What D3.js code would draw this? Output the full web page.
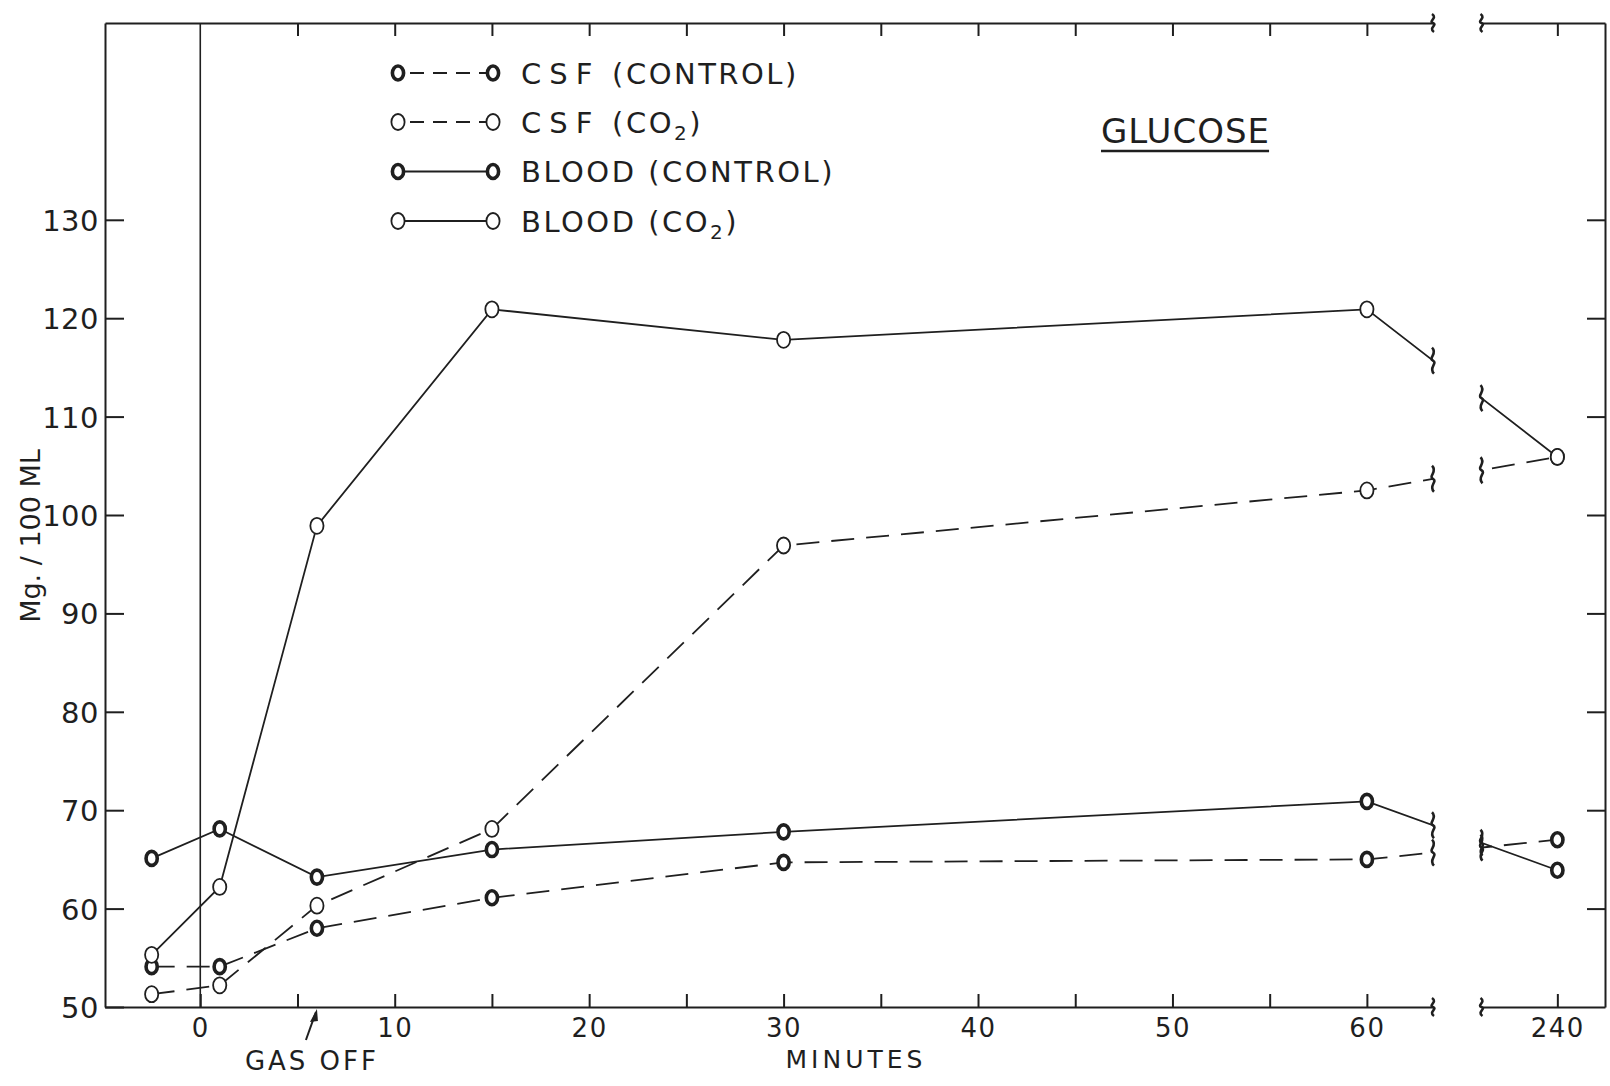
<!DOCTYPE html>
<html>
<head>
<meta charset="utf-8">
<script src="https://cdn.jsdelivr.net/npm/d3@7"></script>
<style>
  html, body { margin: 0; padding: 0; background: #ffffff; }
  svg { display: block; }
</style>
</head>
<body>
<svg id="chart" width="1610" height="1086"></svg>
<script>
// Sampling times (minutes after gas on); 240 sits on a separate, broken segment
const times = [-2.5, 1, 6, 15, 30, 60, 240];

// Glucose, Mg./100 ML
const csfControl   = [54.1, 54.1, 58.0, 61.1, 64.7, 65.0, 67.0];
const csfCO2       = [51.3, 52.2, 60.3, 68.1, 96.9, 102.5, 105.9];
const bloodControl = [65.1, 68.1, 63.2, 66.0, 67.8, 70.9, 63.9];
const bloodCO2     = [55.3, 62.2, 98.9, 120.9, 117.8, 120.9, 105.9];

const seriesLabels = ["CSF (CONTROL)", "CSF (CO2)", "BLOOD (CONTROL)", "BLOOD (CO2)"];

const yTicks = [50, 60, 70, 80, 90, 100, 110, 120, 130];
const xTicksMain = [0, 5, 10, 15, 20, 25, 30, 35, 40, 45, 50, 55, 60];
const xTicksLate = [240];

const title = "GLUCOSE";
const xTitle = "MINUTES";
const yTitle = "Mg. / 100 ML";
const eventLabel = "GAS OFF";
const eventTime = 6;

// ---- layout ----
const INK = "#1f1f1f";
const FONT = "'DejaVu Sans', 'Liberation Sans', sans-serif";
const frame = { left: 105, right: 1605, top: 23, bottom: 1007 };
const gapL = 1433, gapR = 1481.5;

const svg = d3.select("#chart");

const xMain = d3.scaleLinear().domain([-4.9, 63.4]).range([frame.left, gapL]);
const xLate = d3.scaleLinear().domain([236.1, 242.45]).range([gapR, frame.right]);
const y = d3.scaleLinear().domain([50, 150]).range([frame.bottom, frame.top]);
const xPos = t => (t > 100 ? xLate(t) : xMain(t));

function styleAxis(g, fontSize, spacing) {
  g.selectAll(".domain").attr("stroke", INK).attr("stroke-width", 2);
  g.selectAll(".tick line").attr("stroke", INK).attr("stroke-width", 2);
  g.selectAll(".tick text")
    .attr("fill", INK)
    .style("font-family", FONT)
    .style("font-size", fontSize + "px")
    .style("letter-spacing", spacing + "px");
}

// bottom axis, two segments
[[xMain, xTicksMain], [xLate, xTicksLate]].forEach(([sc, tv]) => {
  const g = svg.append("g")
    .attr("transform", `translate(0,${frame.bottom})`)
    .call(d3.axisBottom(sc).tickValues(tv)
      .tickFormat(d => (d % 10 === 0 ? d : ""))
      .tickSizeInner(-13).tickSizeOuter(0).tickPadding(12));
  styleAxis(g, 26, 1.5);
});

// top axis, two segments
[[xMain, xTicksMain.filter(d => d > 0)], [xLate, xTicksLate]].forEach(([sc, tv]) => {
  const g = svg.append("g")
    .attr("transform", `translate(0,${frame.top})`)
    .call(d3.axisTop(sc).tickValues(tv).tickFormat("")
      .tickSizeInner(-13).tickSizeOuter(0));
  styleAxis(g, 26, 1.5);
});

// left axis
const gLeft = svg.append("g")
  .attr("transform", `translate(${frame.left},0)`)
  .call(d3.axisLeft(y).tickValues(yTicks)
    .tickSizeInner(-19).tickSizeOuter(0).tickPadding(6));
styleAxis(gLeft, 29, 0.5);
gLeft.selectAll(".tick text").attr("dy", "0.36em");

// right axis
const gRight = svg.append("g")
  .attr("transform", `translate(${frame.right},0)`)
  .call(d3.axisRight(y).tickValues(yTicks.filter(d => d > 50)).tickFormat("")
    .tickSizeInner(-18).tickSizeOuter(0));
styleAxis(gRight, 29, 0.5);

// zero line (gas on)
svg.append("line")
  .attr("x1", xMain(0)).attr("x2", xMain(0))
  .attr("y1", frame.top).attr("y2", frame.bottom)
  .attr("stroke", INK).attr("stroke-width", 1.6);

// short wavy break mark
function squiggle(cx, cy, h) {
  const s = h / 2;
  return `M${cx - 1},${cy - s} C${cx + 5},${cy - s * 0.55} ${cx - 5},${cy - s * 0.2} ${cx},${cy}` +
         ` C${cx + 5},${cy + s * 0.2} ${cx - 5},${cy + s * 0.55} ${cx + 1},${cy + s}`;
}
const breaks = svg.append("g")
  .attr("fill", "none").attr("stroke", INK).attr("stroke-width", 2.6);
[gapL, gapR].forEach(x => {
  breaks.append("path").attr("d", squiggle(x, frame.top, 18));
  breaks.append("path").attr("d", squiggle(x, frame.bottom, 18));
});

// clip that opens the time-axis gap
const defs = svg.append("defs");
const clip = defs.append("clipPath").attr("id", "gapClip");
clip.append("rect").attr("x", frame.left).attr("y", frame.top)
  .attr("width", gapL - frame.left).attr("height", frame.bottom - frame.top);
clip.append("rect").attr("x", gapR).attr("y", frame.top)
  .attr("width", frame.right - gapR).attr("height", frame.bottom - frame.top);

const series = [
  { label: seriesLabels[0], values: csfControl,   dashed: true,  control: true },
  { label: seriesLabels[1], values: csfCO2,       dashed: true,  control: false },
  { label: seriesLabels[2], values: bloodControl, dashed: false, control: true },
  { label: seriesLabels[3], values: bloodCO2,     dashed: false, control: false }
];

const line = d3.line().x((d, i) => xPos(times[i])).y(d => y(d));

const lines = svg.append("g").attr("clip-path", "url(#gapClip)");
series.forEach(s => {
  lines.append("path")
    .attr("d", line(s.values))
    .attr("fill", "none")
    .attr("stroke", INK)
    .attr("stroke-width", 1.8)
    .attr("stroke-dasharray", s.dashed ? "23 12" : null);
});

// break marks where each series crosses the gap
series.forEach(s => {
  const n = s.values.length;
  const x0 = xPos(times[n - 2]), y0 = y(s.values[n - 2]);
  const x1 = xPos(times[n - 1]), y1 = y(s.values[n - 1]);
  [gapL, gapR].forEach(gx => {
    const gy = y0 + (y1 - y0) * (gx - x0) / (x1 - x0);
    breaks.append("path").attr("d", squiggle(gx, gy, 26));
  });
});

// point markers
function marker(g, cx, cy, control) {
  g.append("ellipse")
    .attr("cx", cx).attr("cy", cy)
    .attr("rx", control ? 5.6 : 6.6).attr("ry", control ? 7 : 8)
    .attr("fill", "#ffffff").attr("stroke", INK)
    .attr("stroke-width", control ? 3.6 : 1.8);
}
const pts = svg.append("g");
series.forEach(s => {
  s.values.forEach((v, i) => marker(pts, xPos(times[i]), y(v), s.control));
});

// legend
const legend = svg.append("g");
const legendRows = [73, 122, 171.5, 221];
series.forEach((s, i) => {
  const ly = legendRows[i];
  legend.append("line")
    .attr("x1", 398).attr("x2", 493).attr("y1", ly).attr("y2", ly)
    .attr("stroke", INK).attr("stroke-width", 1.8)
    .attr("stroke-dasharray", s.dashed ? "14 9" : null)
    .attr("stroke-dashoffset", s.dashed ? -12 : null);
  marker(legend, 398, ly, s.control);
  marker(legend, 493, ly, s.control);

  const t = legend.append("text")
    .attr("x", 521).attr("y", ly + 10.5)
    .attr("fill", INK)
    .style("font-family", FONT)
    .style("font-size", "29px")
    .style("letter-spacing", "2.5px");
  // the "CSF" abbreviation is lettered wide
  let rest = s.label;
  if (rest.startsWith("CSF")) {
    t.append("tspan").style("letter-spacing", "8px").text("CSF");
    rest = rest.slice(3);
  }
  const k = rest.indexOf("CO2");
  if (k >= 0) {
    t.append("tspan").text(rest.slice(0, k + 2));
    t.append("tspan").attr("dy", 7).style("font-size", "20px").text("2");
    t.append("tspan").attr("dy", -7).text(rest.slice(k + 3));
  } else {
    t.append("tspan").text(rest);
  }
});

// title
const titleText = svg.append("text")
  .attr("x", 1101).attr("y", 143)
  .attr("fill", INK)
  .style("font-family", FONT)
  .style("font-size", "34px")
  .style("letter-spacing", "1px")
  .text(title);
const tb = titleText.node().getBBox();
svg.append("line")
  .attr("x1", tb.x).attr("x2", tb.x + tb.width - 1)
  .attr("y1", 151).attr("y2", 151)
  .attr("stroke", INK).attr("stroke-width", 2.6);

// axis titles
svg.append("text")
  .attr("x", 856).attr("y", 1068)
  .attr("text-anchor", "middle")
  .attr("fill", INK)
  .style("font-family", FONT)
  .style("font-size", "25px")
  .style("letter-spacing", "4px")
  .text(xTitle);

svg.append("text")
  .attr("transform", "translate(40,536) rotate(-90)")
  .attr("text-anchor", "middle")
  .attr("fill", INK)
  .style("font-family", FONT)
  .style("font-size", "27px")
  .text(yTitle);

// gas-off marker under the axis
const ex = xMain(eventTime);
svg.append("line")
  .attr("x1", ex - 11).attr("y1", 1040)
  .attr("x2", ex - 1).attr("y2", 1012)
  .attr("stroke", INK).attr("stroke-width", 2);
svg.append("path")
  .attr("d", `M${ex},${1009} L${ex - 7},${1022} L${ex + 1},${1021} Z`)
  .attr("fill", INK);
svg.append("text")
  .attr("x", ex - 5).attr("y", 1070)
  .attr("text-anchor", "middle")
  .attr("fill", INK)
  .style("font-family", FONT)
  .style("font-size", "26px")
  .style("letter-spacing", "3px")
  .text(eventLabel);
</script>
</body>
</html>
